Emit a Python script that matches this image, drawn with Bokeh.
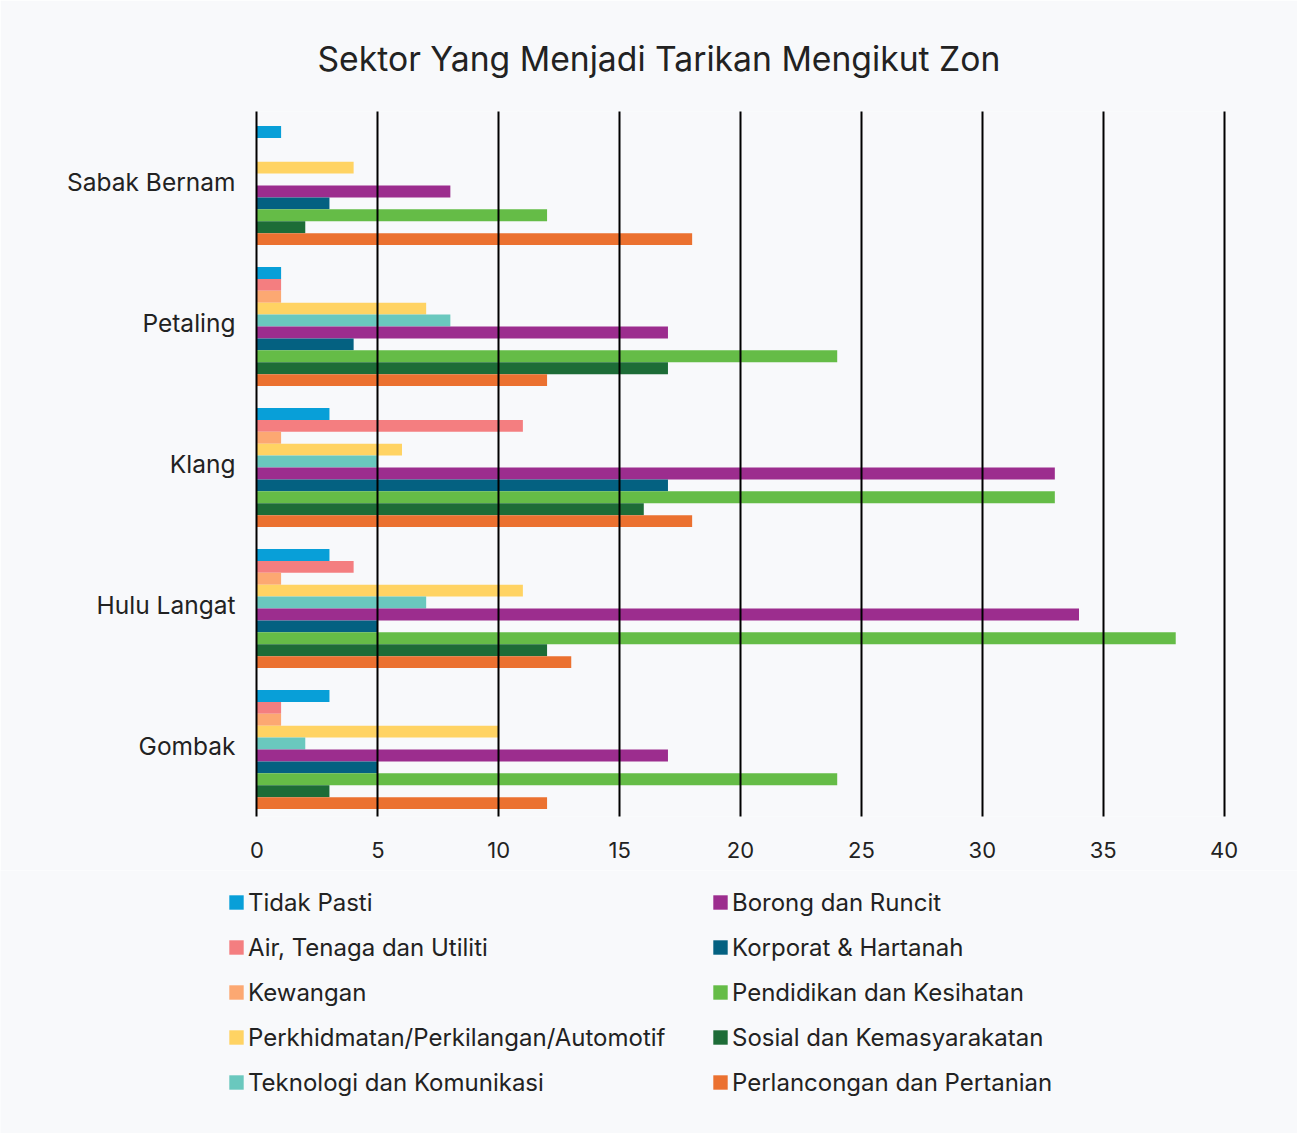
from bokeh.plotting import figure
from bokeh.models import ColumnDataSource, FactorRange, Range1d, Legend, LegendItem, FixedTicker
from bokeh.transform import dodge
from bokeh.embed import file_html
from bokeh.resources import INLINE

title_text = "Sektor Yang Menjadi Tarikan Mengikut Zon"
zones = ["Sabak Bernam", "Petaling", "Klang", "Hulu Langat", "Gombak"]
x_ticks = [0, 5, 10, 15, 20, 25, 30, 35, 40]

series_names = [
    "Tidak Pasti",
    "Air, Tenaga dan Utiliti",
    "Kewangan",
    "Perkhidmatan/Perkilangan/Automotif",
    "Teknologi dan Komunikasi",
    "Borong dan Runcit",
    "Korporat & Hartanah",
    "Pendidikan dan Kesihatan",
    "Sosial dan Kemasyarakatan",
    "Perlancongan dan Pertanian",
]
tidak_pasti = [1, 1, 3, 3, 3]
air_tenaga = [0, 1, 11, 4, 1]
kewangan = [0, 1, 1, 1, 1]
perkhidmatan = [4, 7, 6, 11, 10]
teknologi = [0, 8, 5, 7, 2]
borong = [8, 17, 33, 34, 17]
korporat = [3, 4, 17, 5, 5]
pendidikan = [12, 24, 33, 38, 24]
sosial = [2, 17, 16, 12, 3]
perlancongan = [18, 12, 18, 13, 12]

series_values = [tidak_pasti, air_tenaga, kewangan, perkhidmatan, teknologi,
                 borong, korporat, pendidikan, sosial, perlancongan]
colors = ["#089fd8", "#f47e80", "#fca872", "#ffd363", "#6ac8be",
          "#9c2d8e", "#046181", "#65bc47", "#1d6c37", "#eb7130"]

FONT = "Inter"
TEXT = "#222222"
BG = "#f8f9fb"
W = 1297

data = {"zone": zones}
keys = []
for i, vals in enumerate(series_values):
    k = f"s{i}"
    keys.append(k)
    data[k] = vals
source = ColumnDataSource(data)

p = figure(width=W, height=870,
           y_range=FactorRange(factors=list(reversed(zones))),
           x_range=Range1d(-0.1, 40.1),
           title=title_text,
           output_backend="svg", toolbar_location=None,
           min_border_left=254, min_border_right=71,
           min_border_top=111, min_border_bottom=54)
p.background_fill_color = BG
p.border_fill_color = BG
p.outline_line_color = None

p.title.align = "left"
p.title.offset = 63
p.title.standoff = 65
p.title.text_font = FONT
p.title.text_font_size = "33.7px"
p.title.text_font_style = "normal"
p.title.text_color = TEXT

bar_h = 0.0844
for i, (k, c) in enumerate(zip(keys, colors)):
    off = (4.5 - i) * bar_h - 0.025
    p.hbar(y=dodge("zone", off, range=p.y_range), right=k, left=0,
           height=bar_h, source=source, fill_color=c, line_color=None)

p.xgrid.grid_line_color = "black"
p.xgrid.grid_line_width = 2
p.xgrid.level = "overlay"
p.ygrid.visible = False

p.xaxis.ticker = FixedTicker(ticks=x_ticks)
for ax in (p.xaxis[0], p.yaxis[0]):
    ax.axis_line_color = None
    ax.major_tick_line_color = None
    ax.minor_tick_line_color = None
    ax.major_tick_out = 0
    ax.major_tick_in = 0
    ax.minor_tick_out = 0
    ax.minor_tick_in = 0
    ax.major_label_text_font = FONT
    ax.major_label_text_color = TEXT
p.xaxis.major_label_text_font_size = "22px"
p.xaxis.major_label_standoff = 25
p.yaxis.major_label_text_font_size = "24.5px"
p.yaxis.major_label_standoff = 19

# separate legend panel (own root, so its frame is the whole canvas)
lf = figure(width=W, height=263, x_range=Range1d(0, 1), y_range=Range1d(0, 1),
            title=None, output_backend="svg", toolbar_location=None,
            x_axis_type=None, y_axis_type=None,
            min_border=0, min_border_left=0, min_border_right=0,
            min_border_top=0, min_border_bottom=0)
lf.background_fill_color = BG
lf.border_fill_color = BG
lf.outline_line_color = None
lf.xgrid.visible = False
lf.ygrid.visible = False

items = []
for n, c in zip(series_names, colors):
    r = lf.hbar(y=[-1.0], left=[0.0], right=[0.0], height=0.0,
                fill_color=c, line_color=None)
    items.append(LegendItem(label=n, renderers=[r]))

def make_legend(its, loc):
    return Legend(items=its, location=loc, orientation="vertical",
                  label_text_font=FONT, label_text_font_size="24px",
                  label_text_color=TEXT, glyph_width=18, glyph_height=18,
                  label_standoff=3, spacing=15, padding=0, margin=0,
                  label_height=30, border_line_color=None,
                  background_fill_alpha=0)

lf.add_layout(make_legend(items[:5], (227, 36)))
lf.add_layout(make_legend(items[5:], (711, 36)))

open("out.html", "w").write(file_html([p, lf], INLINE))
